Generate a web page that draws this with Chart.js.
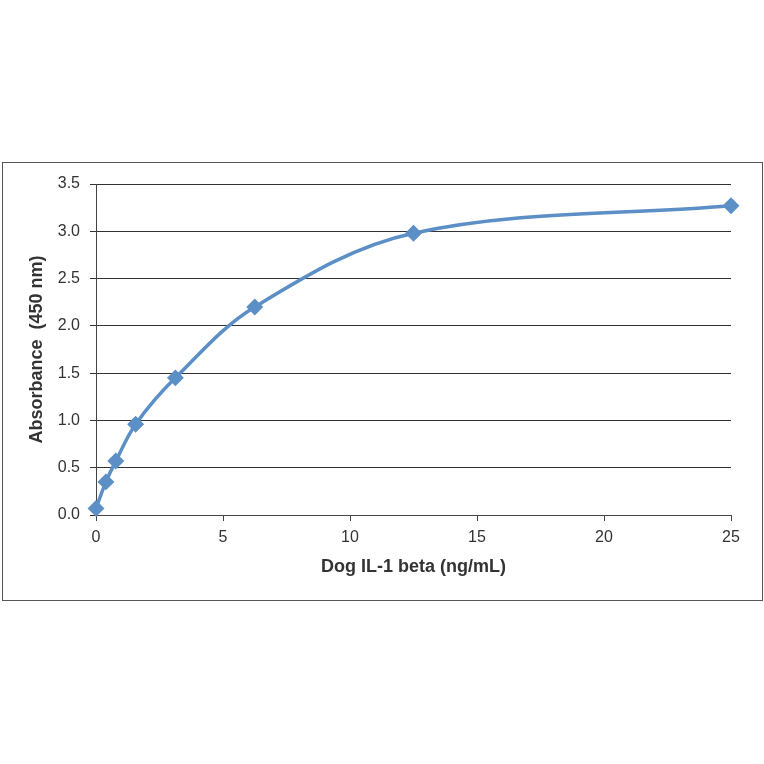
<!DOCTYPE html>
<html>
<head>
<meta charset="utf-8">
<script src="https://cdn.jsdelivr.net/npm/chart.js@4"></script>
<style>
  html, body { margin: 0; padding: 0; background: #fff; }
  #frame {
    position: absolute; left: 2px; top: 162px;
    width: 759px; height: 437px;
    border: 1px solid #555;
  }
</style>
</head>
<body>
<div id="frame"><canvas id="curve" width="759" height="437"></canvas></div>
<script>
// Standard curve: concentration (ng/mL) vs absorbance at 450 nm
const concentration = [0, 0.39, 0.78, 1.56, 3.125, 6.25, 12.5, 25];
const absorbance = [0.07, 0.35, 0.57, 0.96, 1.45, 2.20, 2.98, 3.27];
const xTicks = [0, 5, 10, 15, 20, 25];
const yTicks = [0, 0.5, 1, 1.5, 2, 2.5, 3, 3.5];

const points = concentration.map((c, i) => ({ x: c, y: absorbance[i] }));

new Chart(document.getElementById('curve').getContext('2d'), {
  type: 'line',
  data: {
    datasets: [{
      data: points,
      borderColor: '#5b8fc6',
      backgroundColor: '#5b8fc6',
      borderWidth: 3.5,
      pointStyle: 'rectRot',
      pointRadius: 6,
      pointHoverRadius: 6,
      tension: 0.35,
      fill: false,
      clip: false
    }]
  },
  options: {
    responsive: false,
    animation: false,
    layout: { padding: { top: 21, right: 31, left: 0, bottom: 0 } },
    plugins: { legend: { display: false }, tooltip: { enabled: false } },
    scales: {
      x: {
        type: 'linear',
        min: 0, max: 25,
        afterBuildTicks: s => { s.ticks = xTicks.map(v => ({ value: v })); },
        afterFit: s => { s.height = 85; },
        grid: { drawOnChartArea: false, drawTicks: true, tickLength: 6, color: '#444' },
        border: { color: '#444', width: 1 },
        ticks: { color: '#333', font: { family: 'Liberation Sans', size: 16 }, padding: 7, maxRotation: 0 },
        title: {
          display: true, text: 'Dog IL-1 beta (ng/mL)', color: '#333',
          font: { family: 'Liberation Sans', size: 18, weight: 'bold' }, padding: { top: 0, bottom: 22 }
        }
      },
      y: {
        min: 0, max: 3.5,
        afterBuildTicks: s => { s.ticks = yTicks.map(v => ({ value: v })); },
        afterFit: s => { s.width = 93; },
        grid: { color: '#333', lineWidth: 1, tickLength: 6 },
        border: { color: '#444', width: 1 },
        ticks: {
          color: '#333', font: { family: 'Liberation Sans', size: 16 }, padding: 10,
          callback: v => v.toFixed(1)
        },
        title: {
          display: true, text: 'Absorbance  (450 nm)', color: '#333',
          font: { family: 'Liberation Sans', size: 18, weight: 'bold' }, padding: { top: 23, bottom: 0 }
        }
      }
    }
  }
});
</script>
</body>
</html>
